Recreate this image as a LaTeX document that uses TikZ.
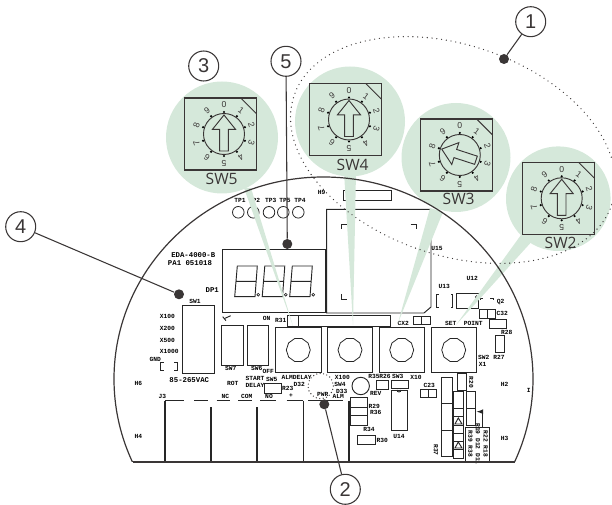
\documentclass[tikz,border=0pt]{standalone}
\usepackage{fontspec}
\setsansfont{Liberation Sans}
\setmonofont{Liberation Mono}
\newfontfamily\swfam{Open Sans}
\usetikzlibrary{shapes.geometric}
\definecolor{mint}{HTML}{D5E8DA}
\definecolor{ink}{HTML}{3A3636}
\tikzset{
	part/.style={draw=black!85,line width=0.7pt},
	silk/.style={inner sep=0pt,text=black,font=\fontsize{4.7}{6}\selectfont\ttfamily\bfseries},
	silkbig/.style={silk,font=\fontsize{5.5}{6}\selectfont\ttfamily\bfseries},
	knob/.style={draw=black!85,line width=0.6pt,regular polygon,regular polygon sides=10,inner sep=0pt,minimum size=18pt},
	callout/.style={circle,draw=ink,line width=0.8pt,fill=white,inner sep=0pt,minimum size=22.5pt,text=ink,font=\fontsize{15}{15}\selectfont\sffamily},
	blob/.style={circle,fill=ink,inner sep=0pt,minimum size=7.5pt},
	dotline/.style={line width=1pt,line cap=round,dash pattern=on 0pt off 3.6pt,draw=ink},
}
\begin{document}
\begin{tikzpicture}[x=0.75pt,y=-0.75pt]
	\useasboundingbox (0,0) rectangle (612,505);
	% board parts
	\foreach \xa/\ya/\xb/\yb in {
		222.7/249.3/325/312.7, 343.3/190/391.7/200, 287.3/315/298.3/326, 298.3/315/390/326,
		182.3/305.3/214/373.3, 221.7/325.7/243.3/365, 247/325.7/268.3/365, 264.7/383.3/281.7/393,
		275.7/327.7/321/372.7, 327.3/327.7/372.7/372.7, 379/327.7/424.3/372.7, 431/327.7/476.3/372.3,
		413.3/316/421.7/324.3, 421.7/316/430/324.3, 376/380.7/388.7/389.3, 391.3/380/408.3/388,
		420/389.3/428.3/397.3, 428.3/389.3/436.7/397.3, 391.7/390/407/430, 350.7/397.7/367.7/407.3,
		350.7/407.3/367.7/415.7, 350.7/415.7/367.7/425, 357.7/435.7/375/444.3,
		456.7/293.3/478.7/308.3, 479/309.3/487/318.3, 487/309.3/495.3/318.3, 489.7/319.3/506.7/328.7,
		495/335.3/504.7/352.3, 457.3/373.3/466/390, 441/377.3/452.7/403.3, 441/403.3/452.7/430,
		441/430/452.7/456.7, 453.3/391.3/463.3/408.3, 453.3/408.3/463.3/416.7, 453.3/416.7/463.3/425,
		453.3/425/463.3/433.3, 453.3/433.3/463.3/441, 453.3/441/463.3/449, 453.3/449/463.3/458,
		466.3/391.3/475.7/408.3, 466.3/408.3/475.7/425.7, 465.3/427.7/489.3/461.7}
		\draw[part] (\xa,\ya) rectangle (\xb,\yb);
	\draw[part] (326.7,313)--(326.7,209.3)--(431,209.3)--(431,307)--(424,313)--cycle;
	\draw[part] (341.7,229)--(341.7,224)--(346.7,224) (341.7,294)--(341.7,299)--(346.7,299) (410.7,224)--(416.7,224)--(416.7,229);
	% display digits
	\foreach \i in {0,1,2}{
		\pgfmathsetmacro{\dx}{27.5*\i}
		\begin{scope}[shift={(\dx,0)}]
			\draw[part] (237.3,266)--(257.3,266)--(255,296.7)--(234.7,296.7)--cycle (236,281.3)--(256.2,281.3);
			\draw[part,line width=0.5pt] (258.3,294.7) circle (1.4);
		\end{scope}
	}
	% test points
	\foreach \i/\x in {1/238.3,2/253.3,3/269,5/283.3,4/298.3}
		\draw[part,line width=0.6pt] (\x,212.3) circle (5.8);
	\foreach \x/\t in {240/TP1,254.5/TP2,270.7/TP3,285/TP5,300/TP4}
		\node[silk] (s\t) at (\x,200) {\t};
	% knobs
	\foreach \x/\t in {298.3/a,350/b,401.7/c,453.7/d}
		\node[knob] (knob\t) at (\x,350) {};
	% terminal block
	\foreach \xa/\xb in {165/184,194.3/207.7,216.7/230,238/251.7,260.3/276,286.7/303,308.3/343.3}
		\draw[part] (\xa,400.7)--(\xb,400.7);
	\foreach \x/\y in {165/400.7,211/407.3,257/407.3,303.3/400.7,349/400.7}
		\draw[part,line width=0.9pt] (\x,\y)--(\x,462);
	% odds and ends
	\draw[part] (164,362.3)--(160.7,362.3)--(160.7,370.3)--(164,370.3) (174,362.3)--(177.3,362.3)--(177.3,370.3)--(174,370.3);
	\draw[part] (222.7,316.7)--(226,320.7)(225,318.3)--(230.7,315.7);
	\draw[part] (438.5,294)--(436.7,294)--(436.7,307.7)--(438.5,307.7) (451,294)--(452.7,294)--(452.7,307.7)--(451,307.7);
	\draw[part] (480,300)--(480,298.3)--(483.3,298.3) (490,298.3)--(493.3,298.3)--(493.3,300);
	\draw[part,line width=0.5pt] (476.7,297) circle (1.3);
	\draw[part] (397,390) arc (180:0:2);
	\draw[part] (360.7,386) circle (8.7);
	\draw[dotline,dash pattern=on 0pt off 2.6pt] (320.7,386) circle (12.7);
	\draw[part] (455,424)--(462,424)--(458.3,418)--cycle;
	\draw[part] (455,448)--(462,448)--(458.3,442)--cycle;
	\draw[part,-latex] (482.3,427.7)--(482.3,411.7)--(476.7,411.7);
	% silk screen texts
	\foreach \x/\y/\t in {
		193.3/255.3/EDA-4000-B, 190/262.7/PA1 051018, 212.3/290/DP1, 189.3/380.3/85-265VAC}
		\node[silkbig] (s\t) at (\x,\y) {\t};
	\foreach \x/\y/\t in {
		195/301.7/SW1, 321.7/192.7/H9,
		167.3/316.7/X100, 167.3/328.3/X200, 167.3/340/X500, 169.3/351.3/X1000, 155.3/359.3/GND,
		230.7/368.3/SW7, 256.7/368.3/SW6, 268.3/371/OFF, 266.7/318/ON,
		280.7/320/R31, 232.7/383.3/ROT, 255/378.7/START, 255/385/DELAY, 271.7/379/SW5, 287.7/388.7/R23,
		287.3/377.5/ALM, 302.3/377.5/DELAY, 299.3/384/D32, 322.7/394/PWR, 338.3/396.7/ALM,
		342.3/377/X100, 340/384.3/SW4, 341.7/391/D33, 374/376.7/R35, 385/376.7/R26, 397.7/376.7/SW3,
		416/377/X10, 375.7/393.3/REV, 429.3/385/C23, 399/436.7/U14, 374.3/406.7/R29, 375.7/412.3/R36,
		369/429/R34, 382.3/440.7/R30, 403.3/323.7/CX2, 472.3/278.3/U12, 444.3/286/U13, 500.7/302/Q2,
		502.3/313.7/C32, 506.7/332/R28, 499/357.3/R27, 483.7/357.3/SW2, 482.7/364.3/X1,
		450.7/323.3/SET, 473.3/323.3/POINT, 504.7/384/H2, 504.7/438/H3, 528.7/390/I, 437/248/U15,
		138.3/383.7/H6, 138.3/436.7/H4, 162.3/396.7/J3, 225.3/396/NC, 246.7/396/COM, 269/396/NO, 291/396/+}
		\node[silk] (s\t) at (\x,\y) {\t};
	\foreach \x/\y/\t in {471.3/382.3/R20, 436/450/R37, 485.7/444/R22 R18, 478/444/R19 D12 D11, 470.5/444/R39 R38}
		\node[silk,rotate=-90] (s\t) at (\x,\y) {\t};
	% green wedges and discs
	\fill[mint] (244,188)--(251,188)--(293,326)--cycle;
	\fill[mint] (344,172)--(356,172)--(353,325)--cycle;
	\fill[mint] (430,208)--(443,212)--(398,323)--cycle;
	\fill[mint] (526,228)--(535,238)--(456,325)--cycle;
	\foreach \gx/\gy/\gr in {222/137.5/56,350/121.5/55,456/157.5/54.5,558.3/198.7/52.3}
		\fill[mint] (\gx,\gy) circle (\gr);
	% board outline
	\begin{scope}
		\clip (0,0) rectangle (612,462);
		\draw[ink,line width=0.9pt] (323.5,379) ellipse [x radius=209.5,y radius=202];
	\end{scope}
	\draw[ink,line width=0.9pt] (133,462)--(515,462);
	% dotted ring
	\begin{scope}[shift={(453,150)},rotate=-19]
		\draw[dotline] (0,0) ellipse [x radius=168,y radius=105];
	\end{scope}
	% rotary switches
	\foreach \nm/\bx/\by/\lx/\ly/\rot in {SW5/220.5/134/221.7/179/0,SW4/345.5/119.5/352.7/165/0,SW3/456.3/155/458.7/199.3/72,SW2/558.2/198.3/560.7/242.7/0}{
		\draw[ink,line width=0.9pt] (\bx-36,\by-36) rectangle (\bx+36,\by+36);
		\draw[ink,line width=0.7pt] (\bx+20.3,\by-36)--(\bx+36,\by-20.3);
		\node[inner sep=0pt,text=ink,font=\fontsize{11.7}{12}\selectfont\swfam] (\nm) at (\lx,\ly) {\nm};
		\pgfmathsetmacro{\cx}{\bx+3.5}
		\draw[ink,line width=0.7pt] (\cx,\by) circle (20.5);
		\foreach \i in {0,...,9}{
			\pgfmathsetmacro{\ang}{36*\i}
			\fill[black] ({\cx+22*sin(\ang)},{\by-22*cos(\ang)}) circle (1.2);
			\node[inner sep=0pt,text=ink,rotate=-\ang,font=\fontsize{6.5}{7}\selectfont\sffamily] (\nm d\i) at ({\cx+29*sin(\ang)},{\by-29*cos(\ang)}) {\i};
		}
		\begin{scope}[shift={(\cx,\by)},rotate=\rot]
			\draw[ink,line width=0.7pt,line join=miter] (0,-19)--(11.5,-4.7)--(4.3,-4.7)--(4.3,17)--(-4.3,17)--(-4.3,-4.7)--(-11.5,-4.7)--cycle;
		\end{scope}
	}
	% callouts
	\node[callout] (c1) at (530.7,21.7) {1};
	\node[callout] (c2) at (345.3,489.3) {2};
	\node[callout] (c3) at (203.7,66) {3};
	\node[callout] (c4) at (20.7,226.7) {4};
	\node[callout] (c5) at (286,61.3) {5};
	\node[blob] (d1) at (504,59) {};
	\node[blob] (d2) at (324.3,404.3) {};
	\node[blob] (d4) at (179,294.3) {};
	\node[blob] (d5) at (287.3,244) {};
	\foreach \a/\b in {c1/d1,c2/d2,c4/d4,c5/d5}
		\draw[ink,line width=0.8pt] (\a)--(\b);
\end{tikzpicture}
\end{document}
